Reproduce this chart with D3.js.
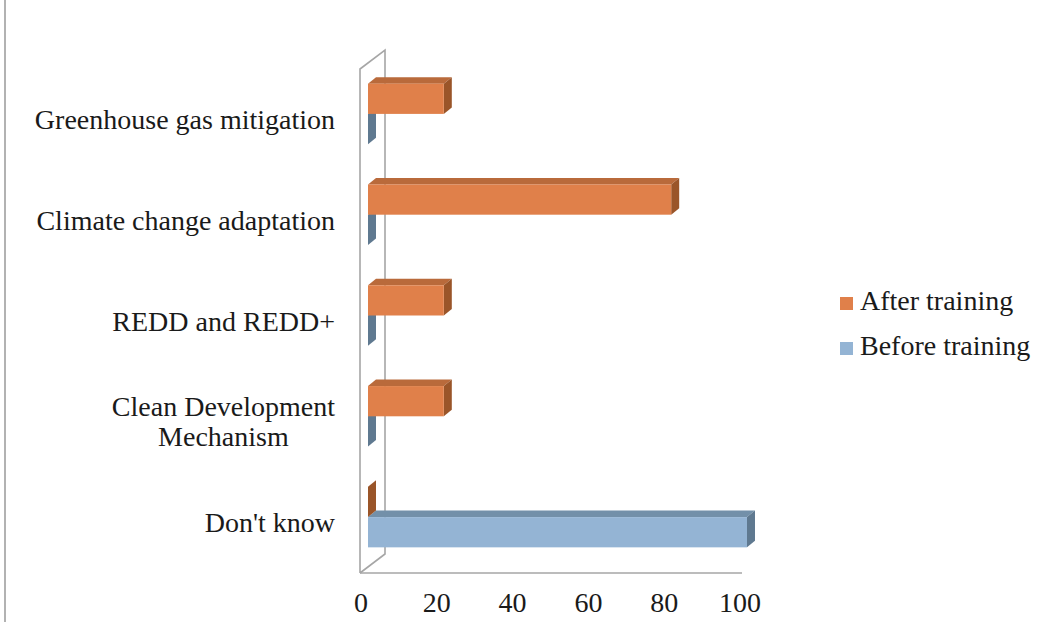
<!DOCTYPE html>
<html>
<head>
<meta charset="utf-8">
<script src="https://cdn.jsdelivr.net/npm/d3@7"></script>
<style>
  html, body { margin: 0; padding: 0; background: #fff; }
  svg { display: block; }
  text { font-family: "Liberation Serif", "Times New Roman", serif; fill: #1a1a1a; }
</style>
</head>
<body>
<svg id="chart" width="1064" height="634"></svg>
<script>
// Awareness of climate-related topics before and after training (%)
const categories = [
  "Greenhouse gas mitigation",
  "Climate change adaptation",
  "REDD and REDD+",
  "Clean Development Mechanism",
  "Don't know"
];
const afterTraining = [20, 80, 20, 20, 0];
const beforeTraining = [0, 0, 0, 0, 100];
const seriesNames = ["After training", "Before training"];
const xTicks = [0, 20, 40, 60, 80, 100];

const palette = {
  "After training":  { front: "#e0804a", top: "#b96a3b", side: "#9a5529" },
  "Before training": { front: "#94b4d4", top: "#7390a9", side: "#5f7990" }
};

const svg = d3.select("#chart");

// Projection of the 3-D box: front plane, wall depth and bar depth offsets
const plot = { left: 360, right: 742, top: 69, bottom: 573 };
const wallDepth = { dx: 25, dy: -19 };
const barShift = { dx: 7, dy: -5.5 };   // where the bar front sits inside the box
const barDepth = { dx: 8, dy: -6.5 };   // thickness of each bar along the depth axis

const x = d3.scaleLinear().domain([0, 100]).range([361, 740]);
const y = d3.scaleBand().domain(categories).range([plot.top, plot.bottom])
  .paddingInner(0.4).paddingOuter(0.2);
const ySeries = d3.scaleBand().domain(seriesNames).range([0, y.bandwidth()]);

// Outer frame line on the left edge
svg.append("line")
  .attr("x1", 5).attr("x2", 5).attr("y1", 0).attr("y2", 622)
  .attr("stroke", "#999").attr("stroke-width", 1.5);

// Side wall and floor edge
const wall = svg.append("g").attr("fill", "none").attr("stroke", "#a6a6a6").attr("stroke-width", 1.6);
wall.append("path").attr("d", d3.line()([
  [plot.left, plot.bottom],
  [plot.left, plot.top],
  [plot.left + wallDepth.dx, plot.top + wallDepth.dy],
  [plot.left + wallDepth.dx, plot.bottom + wallDepth.dy],
  [plot.left, plot.bottom]
]));
wall.append("line")
  .attr("x1", plot.left).attr("x2", plot.right)
  .attr("y1", plot.bottom).attr("y2", plot.bottom);

// Bars (drawn lower series first so the upper bar sits over it)
const rows = [];
categories.forEach((c, i) => {
  rows.push({ cat: c, series: "Before training", value: beforeTraining[i] });
  rows.push({ cat: c, series: "After training", value: afterTraining[i] });
});

const bars = svg.append("g").selectAll("g").data(rows).join("g");

function quad(pts) { return d3.line()(pts) + "Z"; }

bars.each(function(d) {
  const g = d3.select(this);
  const col = palette[d.series];
  const x0 = x(0) + barShift.dx;
  const x1 = x(d.value) + barShift.dx;
  const y0 = y(d.cat) + ySeries(d.series) + barShift.dy;
  const y1 = y0 + ySeries.bandwidth();
  const dx = barDepth.dx, dy = barDepth.dy;
  // top face
  if (d.value > 0) {
    g.append("path").attr("fill", col.top)
      .attr("d", quad([[x0, y0], [x1, y0], [x1 + dx, y0 + dy], [x0 + dx, y0 + dy]]));
  }
  // end face
  g.append("path").attr("fill", col.side)
    .attr("d", quad([[x1, y0], [x1 + dx, y0 + dy], [x1 + dx, y1 + dy], [x1, y1]]));
  // front face
  if (d.value > 0) {
    g.append("rect").attr("fill", col.front)
      .attr("x", x0).attr("y", y0).attr("width", x1 - x0).attr("height", y1 - y0);
  }
});

// Value axis labels
svg.append("g").selectAll("text").data(xTicks).join("text")
  .attr("x", d => x(d)).attr("y", 612)
  .attr("text-anchor", "middle").attr("font-size", 28)
  .text(d => d);

// Category labels, wrapped when wider than the label column
const labelRight = 335;
const maxLabelWidth = 320;
const labels = svg.append("g").selectAll("g").data(categories).join("g");
labels.each(function(c) {
  const g = d3.select(this);
  const t = g.append("text").attr("font-size", 28).attr("text-anchor", "middle");
  const words = c.split(" ");
  let lines = [];
  let cur = [];
  const probe = svg.append("text").attr("font-size", 28);
  words.forEach(w => {
    const trial = cur.concat([w]).join(" ");
    probe.text(trial);
    if (probe.node().getComputedTextLength() > maxLabelWidth && cur.length) {
      lines.push(cur.join(" "));
      cur = [w];
    } else {
      cur.push(w);
    }
  });
  lines.push(cur.join(" "));
  let widest = 0;
  lines.forEach(l => { probe.text(l); widest = Math.max(widest, probe.node().getComputedTextLength()); });
  probe.remove();
  const lineH = 30;
  const cy = y(c) + y.bandwidth() / 2;
  const firstBase = cy + 9.5 - (lines.length - 1) * lineH / 2;
  lines.forEach((l, k) => {
    t.append("tspan").attr("x", 0).attr("y", firstBase + k * lineH).text(l);
  });
  g.attr("transform", `translate(${labelRight - widest / 2},0)`);
});

// Legend
const legend = svg.append("g").selectAll("g").data(seriesNames).join("g")
  .attr("transform", (d, i) => `translate(840,${297 + i * 45})`);
legend.append("rect").attr("width", 13).attr("height", 13)
  .attr("fill", d => palette[d].front);
legend.append("text").attr("x", 20).attr("y", 13).attr("font-size", 28).text(d => d);
</script>
</body>
</html>
